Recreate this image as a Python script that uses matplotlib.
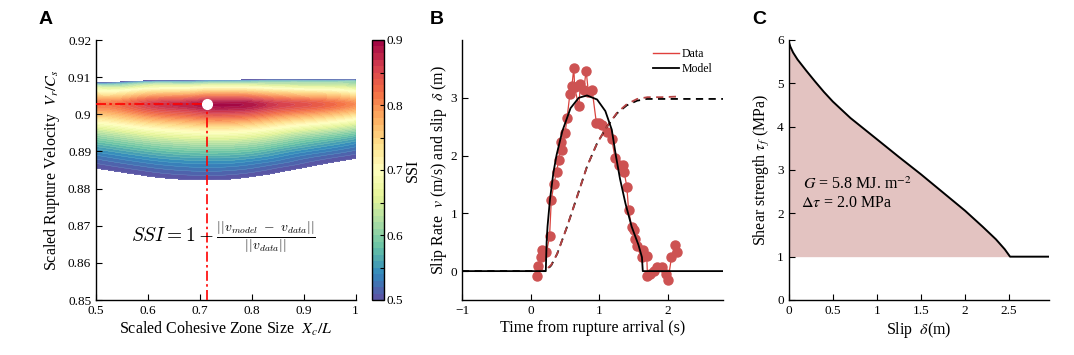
import numpy as np
import matplotlib
matplotlib.use('Agg')
import matplotlib.pyplot as plt
import matplotlib.tri as mtri
from matplotlib.lines import Line2D
from matplotlib.ticker import FixedLocator

plt.rcParams['font.family'] = ['Liberation Serif', 'DejaVu Serif']
plt.rcParams['mathtext.fontset'] = 'stix'

# ---------------- Panel A data (SSI grid) ----------------
xc_grid = [0.5, 0.6, 0.7, 0.75, 0.8, 0.85, 0.9, 1.0]
vr_grid = [0.880, 0.882, 0.884, 0.886, 0.888, 0.890, 0.892, 0.894, 0.896, 0.898,
           0.900, 0.9015, 0.9027, 0.9040, 0.9053, 0.9065, 0.9075, 0.9083, 0.9090, 0.9096]
ssi_grid = [
    [.455, .473, .480, .478, .471, .462, .450, .430],
    [.472, .489, .497, .496, .489, .480, .468, .447],
    [.488, .505, .514, .513, .507, .497, .485, .465],
    [.504, .522, .533, .532, .525, .514, .503, .482],
    [.520, .543, .556, .556, .548, .535, .520, .499],
    [.542, .570, .587, .586, .578, .560, .543, .517],
    [.570, .603, .622, .622, .613, .594, .573, .539],
    [.604, .643, .665, .666, .656, .634, .609, .570],
    [.647, .692, .719, .721, .709, .685, .660, .615],
    [.703, .752, .781, .785, .773, .747, .724, .672],
    [.762, .809, .840, .845, .836, .809, .790, .740],
    [.798, .844, .874, .882, .873, .847, .830, .783],
    [.815, .855, .885, .893, .885, .860, .845, .800],
    [.790, .827, .855, .862, .855, .832, .818, .776],
    [.740, .772, .795, .801, .795, .776, .763, .728],
    [.691, .717, .735, .740, .735, .720, .708, .680],
    [.641, .662, .676, .679, .676, .664, .654, .634],
    [.530, .600, .610, .620, .620, .620, .620, .610],
    [.440, .500, .520, .530, .540, .550, .550, .560],
    [.400, .420, .430, .440, .440, .440, .440, .440],
]
best_xc = 0.713
best_vr = 0.9027
ssi_levels_min, ssi_levels_max = 0.5, 0.9

# ---------------- Panel B data ----------------
t_data = [0.087, 0.106, 0.145, 0.17, 0.23, 0.275, 0.30, 0.338, 0.377, 0.41, 0.435, 0.46,
          0.50, 0.53, 0.57, 0.60, 0.628, 0.64, 0.70, 0.725, 0.773, 0.807, 0.84, 0.894,
          0.957, 0.99, 1.04, 1.11, 1.18, 1.23, 1.28, 1.34, 1.36, 1.40, 1.425, 1.47,
          1.50, 1.52, 1.55, 1.62, 1.64, 1.69, 1.70, 1.74, 1.79, 1.84, 1.91, 1.97,
          2.00, 2.05, 2.10, 2.13]
v_data = [-0.08, 0.08, 0.24, 0.37, 0.33, 0.60, 1.23, 1.51, 1.72, 1.93, 2.23, 2.09,
          2.39, 2.65, 3.06, 3.20, 3.52, 3.18, 2.85, 3.23, 3.14, 3.47, 3.10, 3.14,
          2.56, 2.56, 2.53, 2.41, 2.29, 1.95, 1.84, 1.84, 1.72, 1.46, 1.06, 0.77,
          0.71, 0.56, 0.43, 0.24, 0.36, 0.26, -0.08, -0.05, 0.01, 0.07, 0.07, -0.05,
          -0.16, 0.24, 0.45, 0.33]

t_model = [-1.0, 0.22, 0.232, 0.245, 0.28, 0.33, 0.377, 0.46, 0.58, 0.70, 0.82, 0.967,
           1.087, 1.18, 1.24, 1.30, 1.38, 1.47, 1.57, 1.62, 1.632, 2.8]
v_model = [0.0, 0.0, 0.5, 0.77, 1.23, 1.70, 2.01, 2.42, 2.82, 3.00, 3.04, 2.97,
           2.77, 2.45, 2.00, 1.60, 1.17, 0.77, 0.45, 0.24, 0.0, 0.0]

t_slip_model = [-1.0, 0.22, 0.30, 0.386, 0.53, 0.676, 0.82, 0.966, 1.11, 1.256, 1.40,
                1.55, 1.69, 2.8]
slip_model = [0.0, 0.0, 0.10, 0.30, 0.77, 1.29, 1.81, 2.21, 2.50, 2.73, 2.87,
              2.95, 2.98, 2.98]
t_slip_data = [0.08, 0.22, 0.30, 0.386, 0.53, 0.676, 0.82, 0.966, 1.11, 1.256, 1.40,
               1.55, 1.70, 1.90, 2.12]
slip_data = [0.0, 0.02, 0.11, 0.30, 0.77, 1.29, 1.81, 2.21, 2.50, 2.74, 2.89,
             2.98, 3.01, 3.01, 3.02]

# ---------------- Panel C data ----------------
slip_c = [0.0, 0.005, 0.02, 0.05, 0.10, 0.20, 0.30, 0.40, 0.50, 0.70, 1.00, 1.25,
          1.50, 1.75, 2.00, 2.20, 2.35, 2.45, 2.51, 2.96]
tau_c = [6.0, 5.93, 5.84, 5.71, 5.55, 5.29, 5.04, 4.80, 4.58, 4.20, 3.71, 3.30,
         2.90, 2.48, 2.06, 1.69, 1.40, 1.17, 1.00, 1.00]
tau_residual = 1.0
slip_weakening_end = 2.51

# ---------------- Figure ----------------
W, H = 1074, 355
fig = plt.figure(figsize=(W / 100, H / 100), dpi=100)

def ax_rect(x0, x1, y_top, y_bot):
    return [x0 / W, 1 - y_bot / H, (x1 - x0) / W, (y_bot - y_top) / H]

tick_kw = dict(direction='in', length=4, width=0.8, labelsize=9.5)
lab_fs = 11.5

def style(ax):
    for s in ['top', 'right']:
        ax.spines[s].set_visible(False)
    for s in ['left', 'bottom']:
        ax.spines[s].set_linewidth(1.0)
    ax.tick_params(**tick_kw)

# ---- Panel A ----
axA = fig.add_axes(ax_rect(96, 355.5, 40, 300))
X, Y = np.meshgrid(xc_grid, vr_grid)
Z = np.array(ssi_grid)
s = (max(xc_grid) - min(xc_grid)) / (max(vr_grid) - min(vr_grid))
tri = mtri.Triangulation(X.ravel(), Y.ravel() * s)
refiner = mtri.UniformTriRefiner(tri)
tri_r, z_r = refiner.refine_field(Z.ravel(), subdiv=3)
tri_plot = mtri.Triangulation(tri_r.x, tri_r.y / s, triangles=tri_r.triangles)
levels = np.linspace(ssi_levels_min, ssi_levels_max, 41)
cf = axA.tricontourf(tri_plot, z_r, levels=levels, cmap='Spectral_r',
                     vmin=ssi_levels_min, vmax=ssi_levels_max)
axA.tricontour(tri_plot, z_r, levels=levels, colors='white', linewidths=0.3, alpha=0.22)

dashdot = (0, (6, 2, 1.5, 2))
axA.plot([0.5, best_xc], [best_vr, best_vr], color='red', lw=1.2, ls=dashdot, zorder=3)
axA.plot([best_xc, best_xc], [0.85, best_vr], color='red', lw=1.2, ls=dashdot, zorder=3)
axA.plot([best_xc], [best_vr], 'o', ms=7, mfc='white', mec='white', zorder=4)
axA.text(0.745, 0.8667,
         r'$SSI = 1 - \frac{||v_{model}\ -\ v_{data}||}{||v_{data}||}$',
         ha='center', va='center', fontsize=14, math_fontfamily='cm', zorder=5)
axA.set_xlim(0.5, 1.0)
axA.set_ylim(0.85, 0.92)
axA.set_xticks([0.5, 0.6, 0.7, 0.8, 0.9, 1.0])
axA.set_xticklabels(['0.5', '0.6', '0.7', '0.8', '0.9', '1'])
axA.set_yticks([0.85, 0.86, 0.87, 0.88, 0.89, 0.9, 0.91, 0.92])
axA.set_yticklabels(['0.85', '0.86', '0.87', '0.88', '0.89', '0.9', '0.91', '0.92'])
style(axA)
axA.set_xlabel(r'Scaled Cohesive Zone Size  $X_c/L$', fontsize=lab_fs, labelpad=2)
axA.set_ylabel(r'Scaled Rupture Velocity  $V_r/C_s$', fontsize=lab_fs, labelpad=4)

cax = fig.add_axes(ax_rect(372, 384, 40, 300))
cb = fig.colorbar(cf, cax=cax, ticks=[0.5, 0.6, 0.7, 0.8, 0.9])
cb.ax.set_yticklabels(['0.5', '0.6', '0.7', '0.8', '0.9'])
cb.ax.yaxis.set_minor_locator(FixedLocator([0.55, 0.65, 0.75, 0.85]))
cb.ax.tick_params(which='both', direction='in', length=3, width=0.8, labelsize=9.5, pad=2)
cb.outline.set_linewidth(1.0)
cb.set_label('SSI', fontsize=lab_fs, labelpad=1)

# ---- Panel B ----
axB = fig.add_axes(ax_rect(462, 723, 40, 300))
red_dot = '#cd5252'
axB.plot(t_data, v_data, color='#d9443f', lw=0.9, marker='o', ms=6.5,
         mfc=red_dot, mec=red_dot, zorder=2)
axB.plot(t_slip_model, slip_model, color='black', lw=1.3, ls=(0, (4, 3)), zorder=3)
axB.plot(t_slip_data, slip_data, color='#b54444', lw=1.3, ls=(0, (4, 3)), zorder=3)
axB.plot(t_model, v_model, color='black', lw=1.3, zorder=4)
axB.set_xlim(-1, 2.8)
axB.set_ylim(-0.5, 4.0)
axB.set_xticks([-1, 0, 1, 2])
axB.set_yticks([0, 1, 2, 3])
style(axB)
axB.set_xlabel('Time from rupture arrival (s)', fontsize=lab_fs, labelpad=2)
axB.set_ylabel(r'Slip Rate  $v$ (m/s) and slip  $\delta$ (m)', fontsize=lab_fs, labelpad=1)
handles = [Line2D([], [], color='#e0403c', lw=1.0), Line2D([], [], color='black', lw=1.3)]
axB.legend(handles, ['Data', 'Model'], loc='upper right', bbox_to_anchor=(0.99, 1.0),
           frameon=False, fontsize=8.5, handlelength=2.2, handletextpad=0.2,
           labelspacing=0.25, borderaxespad=0.3)

# ---- Panel C ----
axC = fig.add_axes(ax_rect(788.7, 1049.3, 40, 300))
slip_arr = np.array(slip_c)
tau_arr = np.array(tau_c)
mask = slip_arr <= slip_weakening_end + 1e-9
axC.fill_between(slip_arr[mask], tau_arr[mask], tau_residual, color='#e3c3c1', lw=0)
axC.plot(slip_c, tau_c, color='black', lw=1.4)
axC.set_xlim(0, 2.955)
axC.set_ylim(0, 6)
axC.set_xticks([0, 0.5, 1, 1.5, 2, 2.5])
axC.set_xticklabels(['0', '0.5', '1', '1.5', '2', '2.5'])
axC.set_yticks([0, 1, 2, 3, 4, 5, 6])
style(axC)
axC.set_xlabel(r'Slip  $\delta$(m)', fontsize=lab_fs, labelpad=2)
axC.set_ylabel(r'Shear strength $\tau_f$ (MPa)', fontsize=lab_fs, labelpad=4)
axC.text(0.16, 2.65, r'$G$ = 5.8 MJ. m$^{-2}$', fontsize=11.5, va='center', ha='left')
axC.text(0.14, 2.23, r'$\Delta\tau$ = 2.0 MPa', fontsize=11.5, va='center', ha='left')

# panel letters
for lx, lab in [(46, 'A'), (437, 'B'), (759, 'C')]:
    fig.text(lx / W, 1 - 19 / H, lab, fontsize=14, fontweight='bold',
             family='Liberation Sans', ha='center', va='center')

fig.savefig('out.png', dpi=100)
